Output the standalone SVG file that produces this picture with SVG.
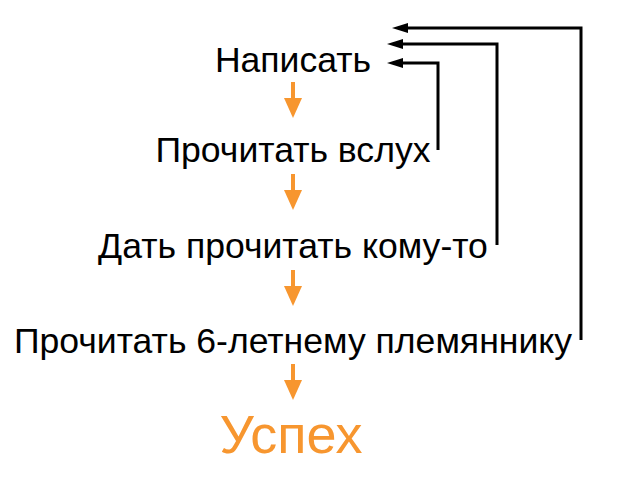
<svg xmlns="http://www.w3.org/2000/svg" width="640" height="480" viewBox="0 0 640 480">
<defs>
<style>
.t{font-family:"Liberation Sans",Arial,sans-serif;font-size:35.6px;fill:#000;text-anchor:middle}
.s{font-family:"Liberation Sans",Arial,sans-serif;font-size:54px;fill:#F7962F;text-anchor:middle}
.fb{fill:none;stroke:#000;stroke-width:3}
.oa{fill:#F7962F}
</style>
<symbol id="down" overflow="visible">
<rect x="-2" y="0" width="4" height="16" class="oa"/>
<path d="M-9,16 L9,16 L0,36 Z" class="oa"/>
</symbol>
</defs>
<rect width="640" height="480" fill="#fff"/>
<g id="n1"><text class="t" x="293" y="72">Написать</text></g>
<g id="n2"><text class="t" x="293" y="162">Прочитать вслух</text></g>
<g id="n3"><text class="t" x="293" y="258">Дать прочитать кому-то</text></g>
<g id="n4"><text class="t" x="293" y="353">Прочитать 6-летнему племяннику</text></g>
<g id="n5"><text class="s" x="291" y="453">Успех</text></g>
<g id="connectors">
<use href="#down" x="293" y="82"/>
<use href="#down" x="293" y="174"/>
<use href="#down" x="293" y="270"/>
<use href="#down" x="293" y="364"/>
<path class="fb" d="M438,150 V63 H403"/>
<path d="M387,63 L403,58 L403,68 Z"/>
<path class="fb" d="M497,245 V44 H403"/>
<path d="M387,44 L403,39 L403,49 Z"/>
<path class="fb" d="M581,340 V28 H408"/>
<path d="M392,28 L408,23 L408,33 Z"/>
</g>
</svg>
